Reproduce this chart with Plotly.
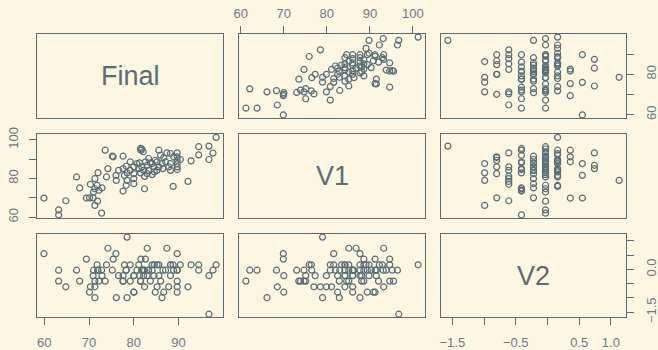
import plotly.graph_objects as go

# ---- data ----
Final = [59.9, 63.2, 63.2, 64.8, 67.2, 67.9, 69.4, 70.1, 70.9, 70.3,
         71.3, 72.0, 71.3, 71.9, 72.8, 71.3, 72.2, 72.9, 71.8, 71.0,
         73.6, 74.2, 73.9, 75.2, 75.4, 76.0, 76.1, 77.6, 77.6, 77.6,
         77.9, 78.3, 78.5, 78.3, 78.5, 80.0, 80.0, 80.0, 80.0, 80.7,
         81.3, 81.5, 81.6, 82.1, 82.4, 82.4, 82.2, 83.0, 83.3, 83.7,
         84.1, 84.5, 84.8, 85.2, 85.6, 86.0, 86.3, 86.7, 87.4, 88.2,
         88.2, 88.2, 88.9, 89.7, 89.7, 89.7, 89.7, 89.7, 89.7, 88.8,
         90.4, 92.1, 92.8, 94.5, 94.5, 96.8, 96.8, 97.7, 98.4,
         81.1, 81.8, 82.6, 83.3, 84.1, 84.6, 85.6, 86.5, 87.1, 87.8,
         81.5, 79.2, 79.2, 76.6, 83.0, 85.2, 81.8]
V1 = [69.9, 63.8, 61.2, 68.5, 80.8, 75.1, 69.9, 70.0, 70.0, 77.0,
      79.9, 83.0, 66.1, 68.3, 62.1, 74.7, 73.9, 75.1, 76.4, 73.0,
      94.6, 85.1, 80.8, 91.5, 91.2, 81.6, 79.0, 91.5, 85.1, 73.5,
      81.6, 86.3, 82.9, 76.5, 79.0, 86.0, 82.5, 79.9, 77.3, 87.7,
      88.1, 95.5, 94.6, 93.8, 74.7, 81.1, 84.2, 86.8, 84.2, 88.1,
      82.0, 86.0, 89.4, 84.2, 94.6, 92.0, 87.7, 90.8, 93.2, 92.9,
      87.7, 84.2, 91.2, 93.2, 91.2, 89.4, 87.7, 86.0, 84.6, 75.9,
      89.8, 78.5, 89.1, 96.4, 92.2, 96.7, 89.8, 93.1, 101.2,
      85.1, 86.0, 88.6, 90.3, 87.7, 83.4, 86.0, 85.1, 88.6, 86.0,
      82.9, 84.2, 88.6, 84.2, 82.5, 88.6, 95.2]
V2 = [0.55, -0.03, -0.41, -0.61, -0.03, -0.41, 0.36, -0.80, -0.22, -0.61,
      -0.61, -0.03, -0.99, -0.03, -0.03, -0.41, -0.41, -0.22, 0.16, -0.03,
      -0.41, 0.74, 0.16, -0.03, 0.36, 0.55, -0.99, -0.22, -0.41, -0.41,
      0.16, -0.03, -0.99, -0.03, 1.13, -0.80, -0.80, -0.22, -0.22, -0.03,
      -0.22, -0.41, 0.36, -0.03, -0.03, -0.61, -0.22, 0.74, -0.03, -0.41,
      -0.03, -0.22, -0.80, -0.61, 0.16, -0.41, -0.99, -0.80, 0.74, 0.16,
      -0.22, 0.16, -0.03, -0.61, -0.80, -0.03, 0.55, -0.03, -0.41, 0.16,
      0.16, -0.61, 0.16, -0.03, 0.16, -1.57, -0.22, -0.03, 0.16,
      0.16, -0.03, 0.36, -0.03, 0.16, 0.16, -0.22, -0.03, -0.03, -0.61,
      -0.41, 0.16, -0.41, -0.22, -0.22, 0.16, -0.03]

var_names = ["Final", "V1", "V2"]

final_ticks = [60, 70, 80, 90]
final_bottom_labels = ["60", "70", "80", "90"]
final_side_labels = ["60", "", "80", ""]
v1_ticks = [60, 70, 80, 90, 100]
v1_top_labels = ["60", "70", "80", "90", "100"]
v1_side_labels = ["60", "", "80", "", "100"]
v2_ticks = [-1.5, -1.0, -0.5, 0.0, 0.5, 1.0]
v2_bottom_labels = ["\u22121.5", "", "\u22120.5", "", "0.5", "1.0"]
v2_side_labels = ["\u22121.5", "", "", "0.0", "", ""]

# ---- styling ----
BG = "#fdf6e3"
INK = "#586e75"
TXT = "#687c83"
FONT = "Liberation Sans, Arial, sans-serif"
W, H = 658, 350

data = [Final, V1, V2]


def ext(v):
    lo, hi = min(v), max(v)
    d = (hi - lo) * 0.04
    return [lo - d, hi + d]


ranges = [ext(v) for v in data]

xdom = [[37 / W, 223 / W], [239 / W, 425 / W], [441 / W, 626 / W]]
ydom = [[1 - 118 / H, 1 - 34 / H], [1 - 218 / H, 1 - 134.3 / H], [1 - 317.3 / H, 1 - 234 / H]]

fig = go.Figure()
layout = dict(width=W, height=H, margin=dict(l=0, r=0, t=0, b=0),
              paper_bgcolor=BG, plot_bgcolor=BG, showlegend=False,
              font=dict(family=FONT, color=TXT))


def base_axis(dom, rng, anchor):
    return dict(domain=dom, range=rng, anchor=anchor, showgrid=False, zeroline=False,
                showline=True, mirror=True, linecolor=INK, linewidth=1,
                showticklabels=False, ticks="", fixedrange=True, automargin=False)


def add_ticks(ax, vals, text, side, angle=0, standoff=4):
    ax.update(ticks="outside", ticklen=7, tickwidth=1, tickcolor=INK,
              tickvals=vals, ticktext=text, showticklabels=True, side=side,
              tickangle=angle, tickfont=dict(size=13, color=TXT, family=FONT),
              ticklabelstandoff=standoff)


annotations = []
for i in range(3):
    for j in range(3):
        k = i * 3 + j + 1
        xn = "x" if k == 1 else f"x{k}"
        yn = "y" if k == 1 else f"y{k}"
        xa = base_axis(xdom[j], ranges[j], yn)
        ya = base_axis(ydom[i], ranges[i], xn)
        # outer axes as in R pairs()
        if i == 0 and j == 1:
            add_ticks(xa, v1_ticks, v1_top_labels, "top", 0, 3)
        if i == 2 and j == 0:
            add_ticks(xa, final_ticks, final_bottom_labels, "bottom", 0, 6)
        if i == 2 and j == 2:
            add_ticks(xa, v2_ticks, v2_bottom_labels, "bottom", 0, 6)
        if i == 0 and j == 2:
            add_ticks(ya, final_ticks, final_side_labels, "right", -90, 6)
        if i == 1 and j == 0:
            add_ticks(ya, v1_ticks, v1_side_labels, "left", -90, 6)
        if i == 2 and j == 2:
            add_ticks(ya, v2_ticks, v2_side_labels, "right", -90, 6)
        layout["xaxis" if k == 1 else f"xaxis{k}"] = xa
        layout["yaxis" if k == 1 else f"yaxis{k}"] = ya
        if i == j:
            # empty trace so the diagonal panel (box + axes) is drawn
            fig.add_trace(go.Scatter(x=[None], y=[None], mode="markers",
                                     xaxis=xn, yaxis=yn, hoverinfo="skip"))
            annotations.append(dict(
                text=var_names[i], xref="paper", yref="paper",
                x=(xdom[j][0] + xdom[j][1]) / 2, y=(ydom[i][0] + ydom[i][1]) / 2,
                showarrow=False, xanchor="center", yanchor="middle",
                font=dict(size=27, color=INK, family=FONT)))
        else:
            fig.add_trace(go.Scatter(
                x=data[j], y=data[i], mode="markers", xaxis=xn, yaxis=yn,
                marker=dict(symbol="circle-open", size=6, color=INK,
                            line=dict(width=1.2, color=INK)),
                hoverinfo="skip", cliponaxis=False))

layout["annotations"] = annotations
fig.update_layout(**layout)
fig.write_html("out.html", config={"displayModeBar": False},
               post_script="document.body.style.margin='0';document.body.style.padding='0';")
